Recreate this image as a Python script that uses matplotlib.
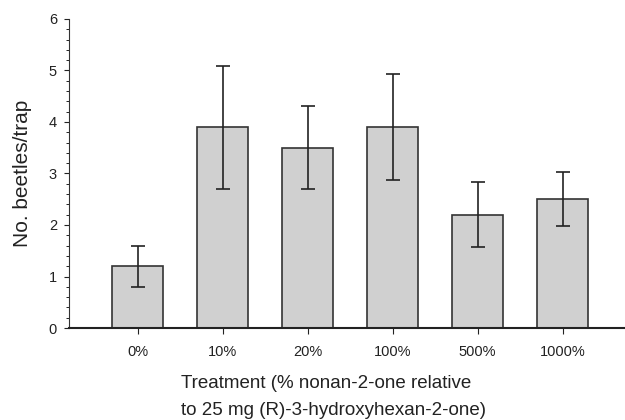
import numpy as np
import matplotlib.pyplot as plt
from matplotlib.ticker import MultipleLocator

plt.rcParams['font.family'] = ['Liberation Sans', 'DejaVu Sans']

# Data
treatments = ['0%', '10%', '20%', '100%', '500%', '1000%']
means = [1.2, 3.9, 3.5, 3.9, 2.2, 2.5]
err_low = [0.80, 2.70, 2.69, 2.87, 1.57, 1.98]
err_high = [1.59, 5.09, 4.31, 4.93, 2.83, 3.02]

means = np.array(means)
yerr = np.array([means - np.array(err_low), np.array(err_high) - means])
x = np.arange(len(treatments))

fig = plt.figure(figsize=(6.25, 4.2), dpi=100)
ax = fig.add_axes([0.110, 0.219, 0.888, 0.736])

ax.bar(x, means, width=0.6, color='#d0d0d0', edgecolor='#333333', linewidth=1.2, zorder=2)
ax.errorbar(x, means, yerr=yerr, fmt='none', ecolor='#222222', elinewidth=1.2,
            capsize=5, capthick=1.2, zorder=3)

ax.set_xlim(-0.81, 5.72)
ax.set_ylim(0, 6)
ax.set_xticks(x)
ax.set_xticklabels(treatments)
ax.yaxis.set_major_locator(MultipleLocator(1))
ax.yaxis.set_minor_locator(MultipleLocator(0.2))

for side in ['top', 'right']:
    ax.spines[side].set_visible(False)
ax.spines['left'].set_color('#333333')
ax.spines['bottom'].set_color('#222222')
ax.spines['bottom'].set_linewidth(1.5)

ax.tick_params(axis='both', labelsize=10.5, colors='#222222', labelcolor='#222222')
ax.tick_params(axis='y', which='major', length=3.5, pad=5)
ax.tick_params(axis='y', which='minor', length=2.5)
ax.tick_params(axis='x', which='major', length=4, pad=8)

ax.set_ylabel('No. beetles/trap', fontsize=15, color='#222222')
ax.yaxis.set_label_coords(-0.067, 0.5)
ax.set_xlabel('Treatment (% nonan-2-one relative\nto 25 mg (R)-3-hydroxyhexan-2-one)',
              fontsize=13.5, color='#222222', labelpad=11.5, linespacing=1.8,
              multialignment='left')
ax.xaxis.label.set_x(0.477)

fig.savefig('out.png', dpi=100)
